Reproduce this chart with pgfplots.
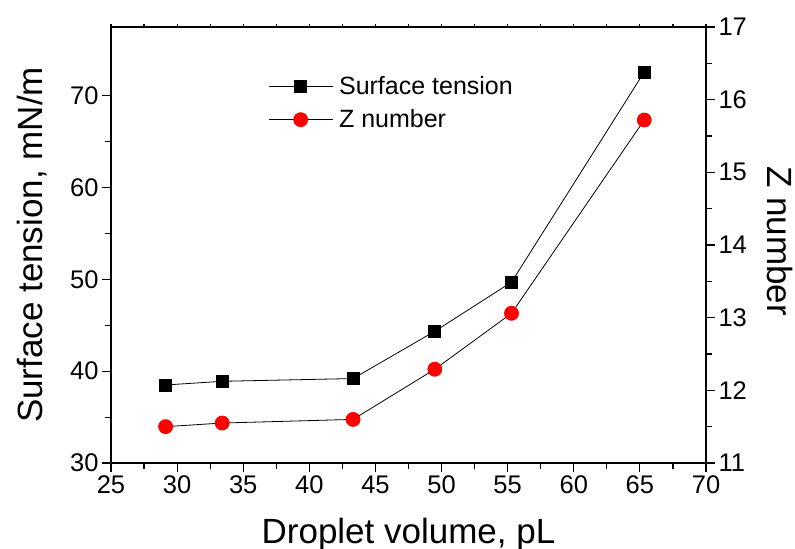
\documentclass[border=0pt]{standalone}
\usepackage{pgfplots}
\pgfplotsset{compat=1.18}
\usepackage{fontspec}
\setmainfont{Liberation Sans}
\begin{document}
\begin{tikzpicture}
\path[use as bounding box] (-111bp,-86bp) rectangle (684bp,463bp);
\pgfplotsset{
  common/.style={scale only axis, width=595bp, height=436bp, xmin=25, xmax=70,
   /pgf/number format/assume math mode=true,
   tick label style={font=\fontsize{25.5bp}{30bp}\selectfont},
   label style={font=\fontsize{35bp}{42bp}\selectfont},
   axis line style={line width=1.2bp},
   tick style={line width=1.2bp, black},
   major tick length=9bp, minor tick length=5.5bp, tick align=outside,
  }
}
\begin{axis}[common, ymin=30, ymax=77.5,
  xtick={25,30,...,70}, minor x tick num=1,
  ytick={30,40,...,70}, minor y tick num=1,
  xtick pos=bottom, ytick pos=left,
  xlabel={Droplet volume, pL}, ylabel={Surface tension, mN/m},
  xlabel style={at={(axis description cs:0.5,-0.1835)}, anchor=base},
  ylabel style={at={(axis description cs:-0.11429,0.5)}, anchor=base},
  legend style={draw=none, fill=none, at={(axis description cs:0.264,0.892)}, anchor=north west,
    font=\fontsize{25bp}{30bp}\selectfont, row sep=10bp, column sep=4bp, inner sep=0pt},
  legend cell align=left,
  legend image code/.code={\draw[mark repeat=2,mark phase=2] plot coordinates {(0bp,0bp) (32bp,0bp) (64bp,0bp)};},
]
\addplot[black, line width=0.8bp, mark=square*, mark size=6bp, mark options={solid, fill=black}] coordinates {
(29.13,38.5) (33.41,38.9) (43.31,39.2) (49.49,44.35) (55.29,49.7) (65.33,72.6)};
\addlegendentry{Surface tension}
\addlegendimage{black, line width=0.8bp, mark=*, mark size=7bp, mark options={solid, fill=red, draw=red}}
\addlegendentry{Z number}
\end{axis}
\begin{axis}[common, ymin=11, ymax=17, axis y line*=right, axis x line=none,
  ytick={11,12,...,17}, minor y tick num=1,
  ylabel={Z number},
  ylabel style={at={(axis description cs:1.10252,0.5092)}, anchor=base, rotate=180},
]
\addplot[black, line width=0.8bp, mark=*, mark size=7bp, mark options={solid, fill=red, draw=red}] coordinates {
(29.13,11.50) (33.41,11.55) (43.31,11.60) (49.49,12.29) (55.29,13.06) (65.33,15.72)};
\end{axis}
\begin{axis}[common, ymin=0, ymax=1, axis y line=none, axis x line*=top,
  xtick={25,27.5,...,70}, xticklabels={}, major tick length=2.5bp]
\end{axis}
\end{tikzpicture}
\end{document}
